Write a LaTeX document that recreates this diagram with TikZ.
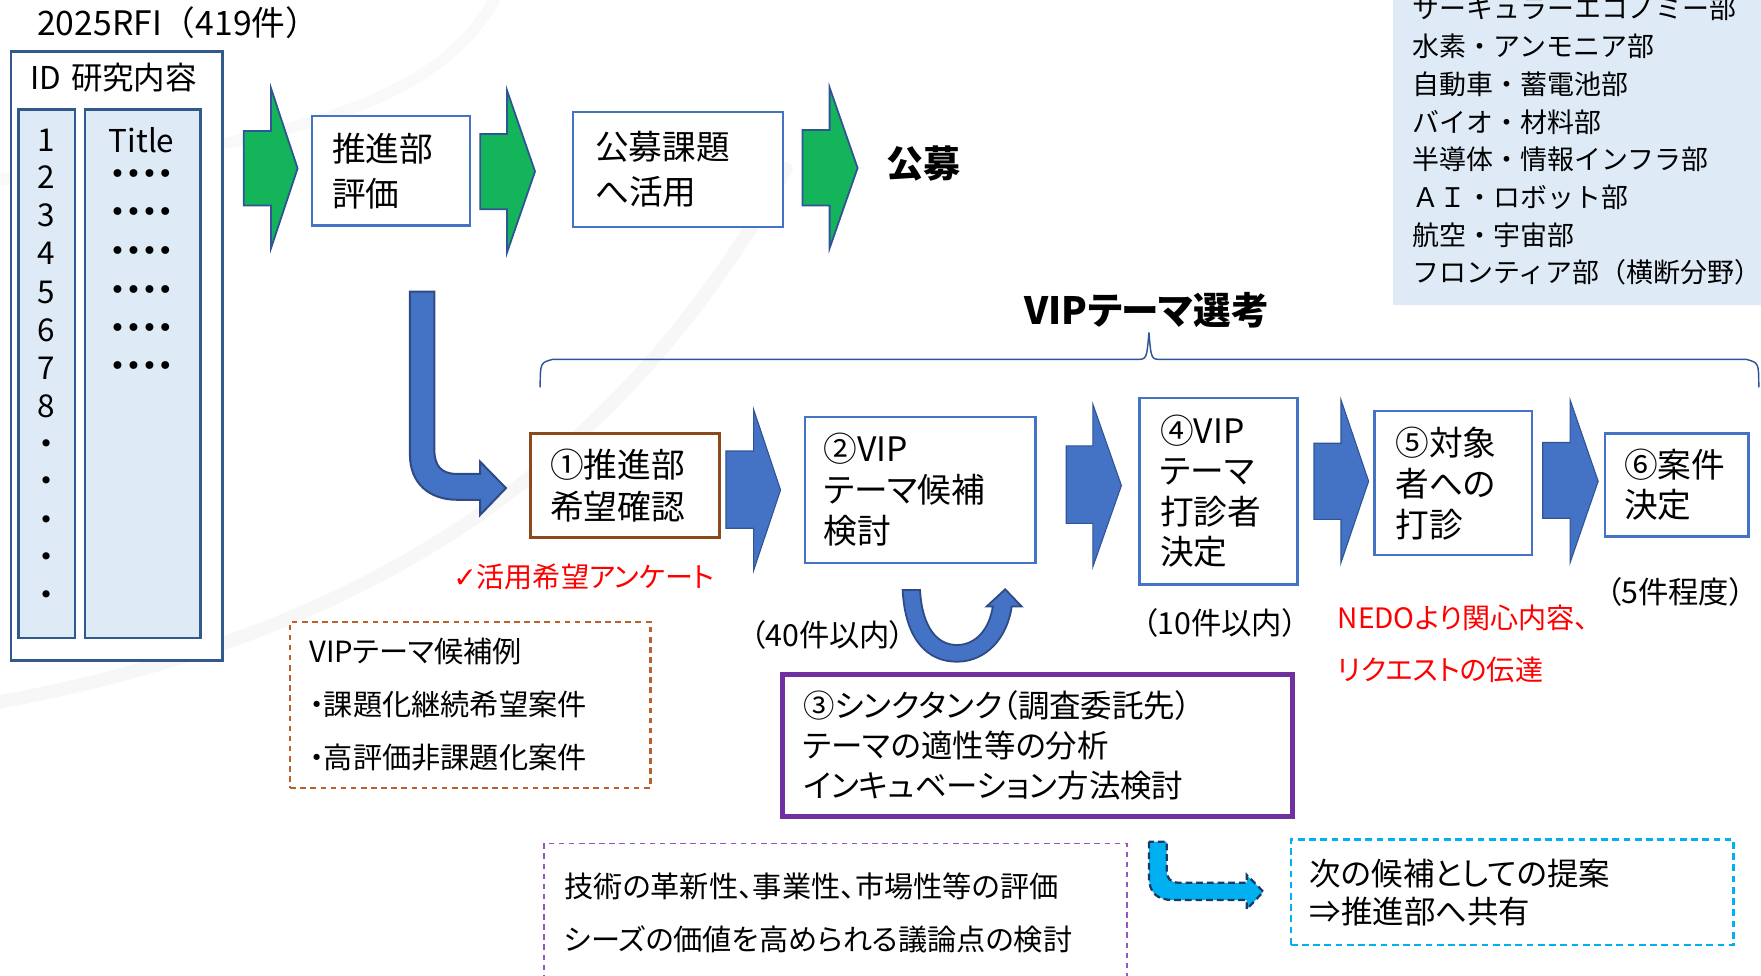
\documentclass[tikz,border=0pt]{standalone}
\usepackage{fontspec}
\setmainfont{Noto Sans CJK JP}[RawFeature=+palt]
\newfontfamily\nopalt{Noto Sans CJK JP}
\newfontfamily\dvs{DejaVu Sans}
\definecolor{idblue}{HTML}{31598C}
\definecolor{lightblue}{HTML}{DEEBF7}
\definecolor{boxblue}{HTML}{4472C4}
\definecolor{arrgreen}{HTML}{14B45A}
\definecolor{arrline}{HTML}{2F5597}
\definecolor{arrdark}{HTML}{2F4B86}
\definecolor{brownA}{HTML}{8C4A1C}
\definecolor{brownB}{HTML}{B8602E}
\definecolor{purpA}{HTML}{7030A0}
\definecolor{purpB}{HTML}{9556C4}
\definecolor{redT}{HTML}{FF0000}
\definecolor{cyanA}{HTML}{00B0F0}
\definecolor{navy}{HTML}{1F3864}
\newcommand\fsz[2]{\fontsize{#1}{#2}\selectfont}
\begin{document}
\begin{tikzpicture}[x=1pt,y=-1pt,
  txt/.style={inner sep=0pt, anchor=west},
  flowbox/.style={draw=boxblue, line width=2.2pt, fill=white, anchor=north west, align=left, inner ysep=0pt},
  garrow/.style={fill=arrgreen, draw=arrline, line width=1.6pt},
  barrow/.style={fill=boxblue, draw=arrline, line width=1.0pt},
  colbox/.style={fill=lightblue, draw=idblue, line width=2pt, anchor=north west, inner sep=0pt},
]
\useasboundingbox (0,0) rectangle (1568,869);
\clip (0,0) rectangle (1568,869);
% faint background swooshes
\draw[black!3, line width=12pt, line cap=round] (700,150) .. controls (560,400) and (350,560) .. (0,625);
\draw[black!2.5, line width=10pt, line cap=round] (440,0) .. controls (380,110) and (200,130) .. (0,160);

% title
\node[txt, font=\nopalt\fsz{30}{30}] (rfi) at (33,20) {2025RFI（419件）};

% ID table
\node[draw=idblue, line width=2.4pt, fill=white, anchor=north west, inner sep=0pt,
      minimum width=188.5pt, minimum height=542.5pt] (idbox) at (8.5,44.5) {};
\node[txt, font=\fsz{28}{28}] (idhead) at (26.6,69) {ID\hspace{9pt}研究内容};
\node[colbox, minimum width=50pt, minimum height=470.5pt] (idcol) at (15.5,96.5) {};
\node[colbox, minimum width=103pt, minimum height=470.5pt] (titlecol) at (74.5,96.5) {};
\foreach \n/\y in {1/124.7,2/157.3,3/191.4,4/225.6,5/260.6,6/294.4,7/327.9,8/362}
  \node[inner sep=0pt, font=\fsz{28}{28}] (num\n) at (41,\y) {\n};
\foreach \y [count=\i] in {396.8,430.3,464.5,497.8,531.7}
  \node[inner sep=0pt, font=\dvs\fsz{22}{22}] (vdot\i) at (41,\y) {•};
\node[inner sep=0pt, font=\fsz{28}{28}] (ttl) at (126,124.7) {Title};
\foreach \y [count=\i] in {157.3,191.4,225.6,260.6,294.4,327.9}
  \node[inner sep=0pt, font=\dvs\fsz{24}{24}] (hdot\i) at (126,\y) {••••};

% top row
\draw[garrow] (217,116.6) -- (241.3,116.6) -- (241.3,78.6) -- (265,150) -- (241.3,221) -- (241.3,183) -- (217,183) -- cycle;
\node[flowbox, font=\fsz{30}{40}, minimum width=140.7pt, minimum height=97.1pt, inner xsep=18pt, text width=104.7pt] (eval) at (276.7,102.4) {推進部\\評価};
\draw[garrow] (427.7,119.3) -- (451.5,119.3) -- (451.5,80.7) -- (476.4,152.7) -- (451.5,224.7) -- (451.5,186.4) -- (427.7,186.4) -- cycle;
\node[flowbox, font=\fsz{30}{40}, minimum width=186.9pt, minimum height=102.4pt, inner xsep=19.7pt, text width=147.5pt] (kobo) at (509,98.8) {公募課題\\へ活用};
\draw[garrow] (714.6,115.8) -- (738.7,115.8) -- (738.7,78) -- (763.6,149.6) -- (738.7,221) -- (738.7,183) -- (714.6,183) -- cycle;
\node[txt, font=\bfseries\fsz{33}{33}] (kobob) at (789.5,145.4) {公募};

% right panel
\fill[lightblue] (1240,-5) rectangle (1575,271.6);
\node[txt, align=left, font=\nopalt\fsz{24}{33.6}] (depts) at (1257.5,125.5) {サーキュラーエコノミー部\\水素・アンモニア部\\自動車・蓄電池部\\バイオ・材料部\\半導体・情報インフラ部\\ＡＩ・ロボット部\\航空・宇宙部\\フロンティア部（横断分野）};

% VIP theme selection brace
\node[inner sep=0pt, font=\bfseries\fsz{33.5}{33.5}] (vipsel) at (1021,276) {VIPテーマ選考};
\coordinate (brL) at (481,345);
\coordinate (brR) at (1566,345);
\coordinate (brT) at (1023,296);
\draw[arrline, line width=1.3pt] (brL) .. controls (481,323) .. (492,320) -- (1012,320) .. controls (1021,320) .. (brT) .. controls (1025,320) .. (1034,320) -- (1555,320) .. controls (1566,323) .. (brR);

% big L arrow
\draw[fill=boxblue, draw=arrdark, line width=1.8pt] (365,259.7) -- (365,405) .. controls (365,430) and (382,445) .. (407,445) -- (427.4,445) -- (427.4,458.6) -- (450.5,434.6) -- (427.4,411) -- (427.4,422) -- (407,422) .. controls (393,422) and (386.7,415) .. (386.7,400) -- (386.7,259.7) -- cycle;

% flow boxes
\node[flowbox, draw=brownA, line width=2.8pt, font=\fsz{30}{37}, minimum width=168.2pt, minimum height=92.8pt, inner xsep=17.4pt, text width=133.4pt] (s1) at (471,384.4) {①推進部\\希望確認};
\draw[barrow] (646.4,401.6) -- (671,401.6) -- (671,364.5) -- (695,436.3) -- (671,508) -- (671,470.4) -- (646.4,470.4) -- cycle;
\node[flowbox, font=\fsz{30}{36.5}, minimum width=205.2pt, minimum height=129.7pt, inner xsep=16.8pt, text width=171.6pt] (s2) at (715.5,370.4) {②VIP\\テーマ候補\\検討};
\draw[barrow] (949.4,397) -- (973.1,397) -- (973.1,360) -- (998.5,432.3) -- (973.1,504.6) -- (973.1,466) -- (949.4,466) -- cycle;
\node[flowbox, font=\fsz{30}{36}, minimum width=140.5pt, minimum height=166.2pt, inner xsep=18.5pt, text width=103.5pt] (s4) at (1013.5,353.2) {④VIP\\テーマ\\打診者\\決定};
\draw[barrow] (1170,394.7) -- (1194,394.7) -- (1194,356) -- (1218.6,428.5) -- (1194,501) -- (1194,462.4) -- (1170,462.4) -- cycle;
\node[flowbox, font=\fsz{30}{36.5}, minimum width=140.3pt, minimum height=128.3pt, inner xsep=18.8pt, text width=102.7pt] (s5) at (1222.7,365) {⑤対象\\者への\\打診};
\draw[barrow] (1373.6,394) -- (1398,394) -- (1398,356) -- (1423,428.5) -- (1398,501) -- (1398,461.5) -- (1373.6,461.5) -- cycle;
\node[flowbox, font=\fsz{30}{36}, minimum width=127.6pt, minimum height=91.4pt, inner xsep=17pt, text width=93.6pt] (s6) at (1428,385) {⑥案件\\決定};

% annotations
\node[txt, text=redT, font=\fsz{25}{25}] (survey) at (403.4,513.5) {{\dvs ✓}活用希望アンケート};
\node[txt, font=\fsz{27}{27}] (n40) at (667.8,565.4) {（40件以内）};
\node[txt, font=\fsz{27}{27}] (n10) at (1017,555) {（10件以内）};
\node[txt, font=\fsz{27}{27}] (n5) at (1430,526.8) {（5件程度）};
\node[txt, text=redT, font=\fsz{25}{25}] (nedo1) at (1191,549.7) {NEDOより関心内容、};
\node[txt, text=redT, font=\fsz{25}{25}] (nedo2) at (1191,596.6) {リクエストの伝達};

% candidates example box
\node[flowbox, draw=brownB, line width=1.8pt, dash pattern=on 5pt off 4pt, font=\fsz{26}{47.5}, minimum width=320.8pt, minimum height=147.8pt, inner xsep=17pt, text width=286.8pt] (cand) at (257.5,552.6) {VIPテーマ候補例\\・課題化継続希望案件\\・高評価非課題化案件};

% U-turn arrow between step 2 and think tank
\draw[fill=boxblue, draw=arrdark, line width=1.6pt] (803.7,525.3) .. controls (806,570) and (826,589.2) .. (852,589.2) .. controls (878,589.2) and (897,568) .. (900.8,540) -- (909.7,540) -- (895,524.7) -- (878.5,540) -- (884,540) .. controls (881,560) and (869,574.3) .. (852,574.3) .. controls (834,574.3) and (821,558) .. (819.2,525.3) -- cycle;

% think tank box
\node[flowbox, draw=purpA, line width=4.5pt, font=\fsz{28}{35.6}, minimum width=454.5pt, minimum height=126.8pt, inner xsep=18.4pt, text width=417.7pt] (s3) at (694.5,598) {③シンクタンク（調査委託先）\\テーマの適性等の分析\\インキュベーション方法検討};

% evaluation dashed box (runs past the bottom edge)
\node[flowbox, draw=purpB, line width=1.6pt, dash pattern=on 5pt off 4pt, font=\fsz{26}{47.5}, minimum width=519.1pt, minimum height=123pt, inner xsep=18.1pt, text width=482.9pt] (evalbox) at (483.5,750.3) {技術の革新性、事業性、市場性等の評価\\シーズの価値を高められる議論点の検討};

% dashed L arrow
\draw[fill=cyanA, draw=navy, line width=2pt, dash pattern=on 6pt off 3.5pt] (1023,749.4) -- (1023,780) .. controls (1023,795) and (1030,801.4) .. (1045,801.4) -- (1110,801.4) -- (1110,809.7) -- (1124.9,794) -- (1110,779) -- (1110,786) -- (1050,786) .. controls (1042,786) and (1038.8,782) .. (1038.8,775) -- (1038.8,749.4) -- cycle;

% next candidate box
\node[flowbox, draw=cyanA, line width=2pt, dash pattern=on 6pt off 4pt, font=\fsz{28}{34}, minimum width=394.2pt, minimum height=94pt, inner xsep=17pt, text width=360.2pt] (nextc) at (1148.3,746.5) {次の候補としての提案\\⇒推進部へ共有};
\end{tikzpicture}
\end{document}
